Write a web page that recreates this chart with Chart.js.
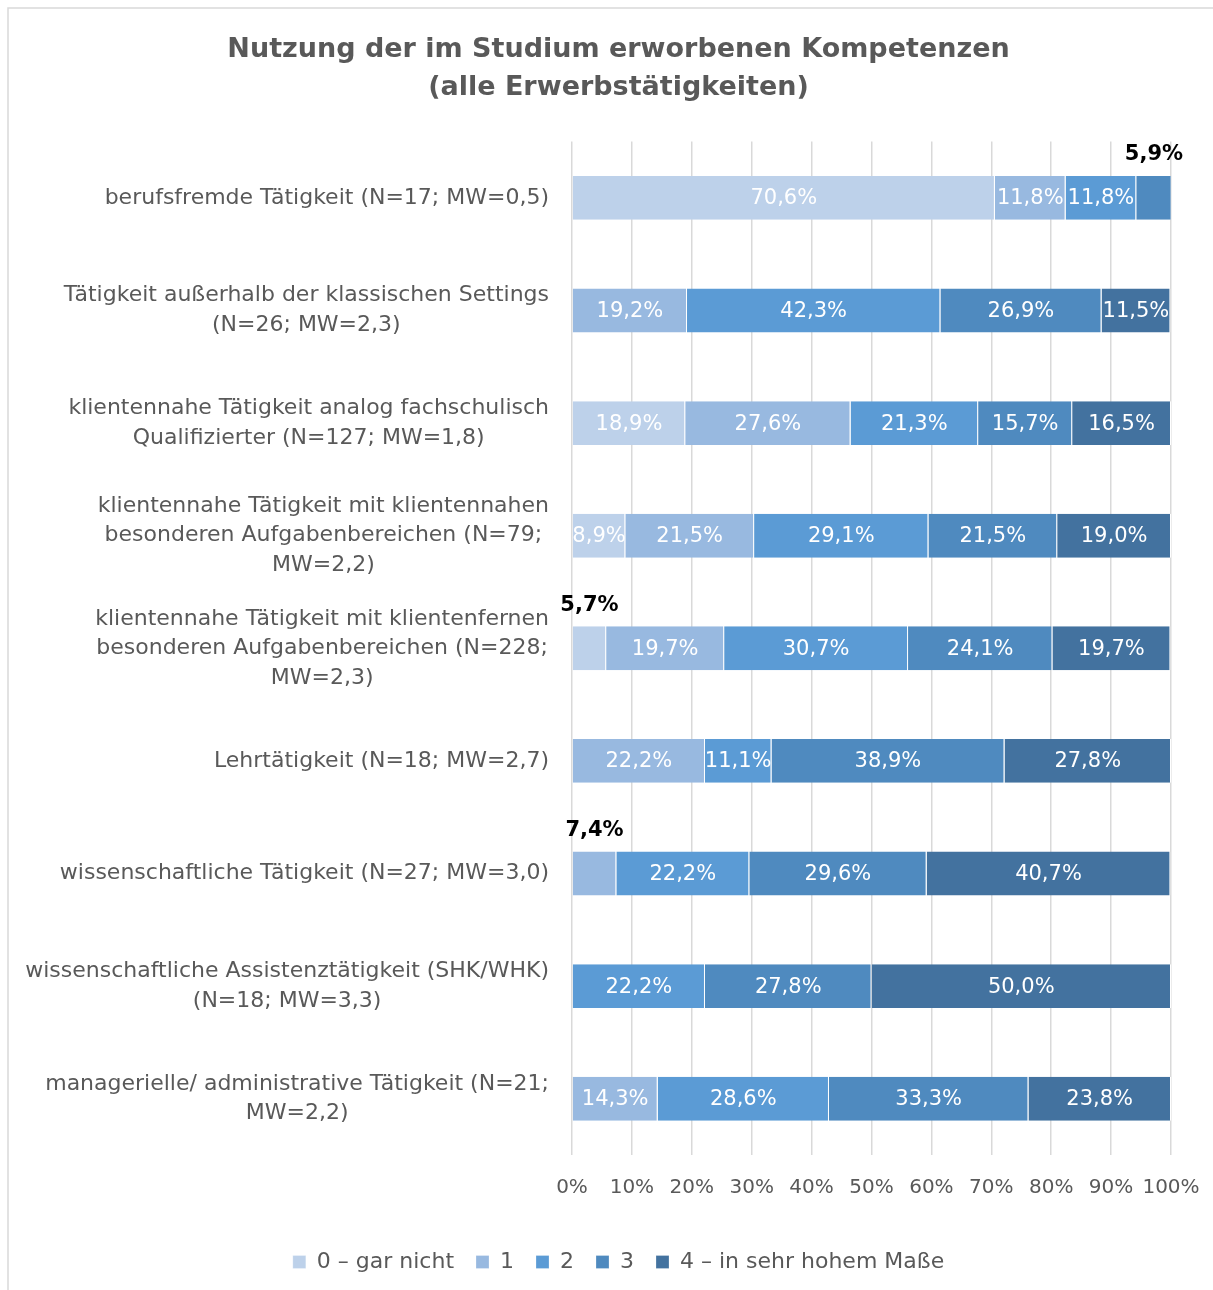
<!DOCTYPE html>
<html>
<head>
<meta charset="utf-8">
<script src="https://cdn.jsdelivr.net/npm/chart.js@4.4.1/dist/chart.umd.min.js"></script>
<style>
  body { margin: 0; background: #fff; }
  canvas { display: block; }
</style>
</head>
<body>
<canvas id="kompetenz-chart" width="1213" height="1290"></canvas>
<script>
// categories (y axis), each one an array of text lines
const categories = [
  ['berufsfremde Tätigkeit (N=17; MW=0,5)'],
  ['Tätigkeit außerhalb der klassischen Settings', '(N=26; MW=2,3)'],
  ['klientennahe Tätigkeit analog fachschulisch', 'Qualifizierter (N=127; MW=1,8)'],
  ['klientennahe Tätigkeit mit klientennahen', 'besonderen Aufgabenbereichen (N=79;', 'MW=2,2)'],
  ['klientennahe Tätigkeit mit klientenfernen', 'besonderen Aufgabenbereichen (N=228;', 'MW=2,3)'],
  ['Lehrtätigkeit (N=18; MW=2,7)'],
  ['wissenschaftliche Tätigkeit (N=27; MW=3,0)'],
  ['wissenschaftliche Assistenztätigkeit (SHK/WHK)', '(N=18; MW=3,3)'],
  ['managerielle/ administrative Tätigkeit (N=21;', 'MW=2,2)']
];

const seriesNames = ['0 – gar nicht', '1', '2', '3', '4 – in sehr hohem Maße'];

// percent per category, one array per answer level
const level0 = [70.6, 0, 18.9, 8.9, 5.7, 0, 0, 0, 0];
const level1 = [11.8, 19.2, 27.6, 21.5, 19.7, 22.2, 7.4, 0, 14.3];
const level2 = [11.8, 42.3, 21.3, 29.1, 30.7, 11.1, 22.2, 22.2, 28.6];
const level3 = [5.9, 26.9, 15.7, 21.5, 24.1, 38.9, 29.6, 27.8, 33.3];
const level4 = [0, 11.5, 16.5, 19.0, 19.7, 27.8, 40.7, 50.0, 23.8];

const xTicks = [0, 10, 20, 30, 40, 50, 60, 70, 80, 90, 100];

const colors = ['#BDD1EA', '#98B9E0', '#5B9BD5', '#4F8ABF', '#43729F'];
const FONT = '"DejaVu Sans", sans-serif';
const GREY = '#595959';

function fmt(v) {
  return v.toFixed(1).replace('.', ',') + '%';
}

// frame round the chart area (like the excel chart border)
const framePlugin = {
  id: 'frame',
  beforeDraw(chart) {
    const ctx = chart.ctx;
    ctx.save();
    ctx.strokeStyle = '#D9D9D9';
    ctx.lineWidth = 1.5;
    ctx.strokeRect(8, 8, chart.width + 10, chart.height + 10);
    ctx.restore();
  }
};

// y labels: lines centred to each other, block right aligned
const yLabelPlugin = {
  id: 'yLabels',
  afterDraw(chart) {
    const ctx = chart.ctx;
    const yScale = chart.scales.y;
    const right = chart.chartArea.left - 23;
    const lineH = 29.5;
    ctx.save();
    ctx.font = '22px ' + FONT;
    ctx.fillStyle = GREY;
    ctx.textAlign = 'center';
    ctx.textBaseline = 'middle';
    categories.forEach((lines, i) => {
      const yc = yScale.getPixelForValue(i);
      let maxW = 0;
      lines.forEach(l => { maxW = Math.max(maxW, ctx.measureText(l).width); });
      const cx = right - maxW / 2;
      const y0 = yc - (lines.length - 1) * lineH / 2;
      lines.forEach((l, k) => ctx.fillText(l, cx, y0 + k * lineH));
    });
    ctx.restore();
  }
};

// value labels on the segments, small ones go above the bar in black
const valueLabelPlugin = {
  id: 'valueLabels',
  afterDatasetsDraw(chart) {
    const ctx = chart.ctx;
    ctx.save();
    ctx.textAlign = 'center';
    ctx.textBaseline = 'middle';
    chart.data.datasets.forEach((ds, di) => {
      const meta = chart.getDatasetMeta(di);
      meta.data.forEach((bar, i) => {
        const v = ds.data[i];
        if (!v) return;
        const p = bar.getProps(['x', 'y', 'base', 'height'], true);
        const cx = (p.x + p.base) / 2;
        if (v < 8) {
          ctx.font = 'bold 21px ' + FONT;
          ctx.fillStyle = '#000';
          ctx.fillText(fmt(v), cx, p.y - p.height / 2 - 21);
        } else {
          ctx.font = '21px ' + FONT;
          ctx.fillStyle = '#fff';
          ctx.fillText(fmt(v), cx, p.y + 1);
        }
      });
    });
    ctx.restore();
  }
};

const seriesData = [level0, level1, level2, level3, level4];

new Chart(document.getElementById('kompetenz-chart'), {
  type: 'bar',
  data: {
    labels: categories.map(c => c.join(' ')),
    datasets: seriesData.map((d, i) => ({
      label: seriesNames[i],
      data: d,
      backgroundColor: colors[i],
      borderColor: '#ffffff',
      borderWidth: { left: 0, right: 1, top: 0, bottom: 0 },
      borderSkipped: false,
      barPercentage: 0.39,
      categoryPercentage: 1
    }))
  },
  options: {
    indexAxis: 'y',
    responsive: false,
    animation: false,
    layout: { padding: { left: 66, right: 42, top: 0, bottom: 7 } },
    scales: {
      x: {
        stacked: true,
        min: 0,
        max: 100,
        afterBuildTicks(scale) {
          scale.ticks = xTicks.map(v => ({ value: v }));
        },
        afterFit(scale) {
          scale.height = 74;
          scale.paddingLeft = 0;
          scale.paddingRight = 0;
        },
        grid: { color: '#D9D9D9', lineWidth: 1.5, drawTicks: false },
        border: { display: false },
        ticks: {
          padding: 21,
          color: GREY,
          maxRotation: 0,
          minRotation: 0,
          autoSkip: false,
          font: { family: FONT, size: 20 },
          callback: v => v + '%'
        }
      },
      y: {
        stacked: true,
        grid: { display: false },
        border: { display: false },
        afterFit(scale) { scale.width = 506; },
        ticks: { display: false }
      }
    },
    plugins: {
      title: {
        display: true,
        text: ['Nutzung der im Studium erworbenen Kompetenzen', '(alle Erwerbstätigkeiten)'],
        color: GREY,
        font: { family: FONT, size: 27, weight: 'bold', lineHeight: 1.4 },
        padding: { top: 31, bottom: 35 }
      },
      legend: {
        position: 'bottom',
        labels: {
          color: GREY,
          font: { family: FONT, size: 22 },
          boxWidth: 13,
          boxHeight: 13,
          padding: 22
        }
      },
      tooltip: { enabled: false }
    }
  },
  plugins: [framePlugin, yLabelPlugin, valueLabelPlugin]
});
</script>
</body>
</html>
